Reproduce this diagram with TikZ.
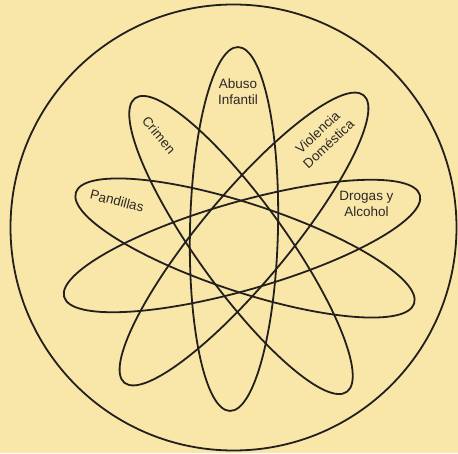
\documentclass[tikz,border=0pt]{standalone}
\usepackage{fontspec}
\setmainfont{Liberation Sans}
\definecolor{paper}{RGB}{249,231,170}
\definecolor{ink}{RGB}{35,31,28}
\definecolor{txt}{RGB}{45,40,36}
\begin{document}
\begin{tikzpicture}[x=1pt,y=1pt,
  orbit/.style={draw=ink,line width=1.8pt},
  lbl/.style={text=txt,font=\fontsize{13.5}{16}\selectfont,align=center,inner sep=0pt}]
\fill[paper] (0,0) rectangle (458,453);
\useasboundingbox (0,0) rectangle (458,453);
% outer circle
\draw[orbit] (233.5,225.5) circle (223);
% ellipses
\draw[orbit,rotate around={88.7:(234,224)}] (234,224) ellipse (182 and 44);
\draw[orbit,rotate around={50.2:(244,214)}] (244,214) ellipse (187 and 44);
\draw[orbit,rotate around={125.8:(241,208)}] (241,208) ellipse (181 and 44);
\draw[orbit,rotate around={161.8:(245,205)}] (245,205) ellipse (178 and 44);
\draw[orbit,rotate around={16:(242,207)}] (242,207) ellipse (185 and 44);
% labels
\node[lbl] (abuso) at (238,361.5) {Abuso\\Infantil};
\node[lbl,rotate=-50] (crimen) at (159,318) {Crimen};
\node[lbl,rotate=43] (violencia) at (323,315) {Violencia\\Doméstica};
\node[lbl] (drogas) at (366.5,249.5) {Drogas y\\Alcohol};
\node[lbl,rotate=-14.5] (pandillas) at (117,252) {Pandillas};
\end{tikzpicture}
\end{document}
